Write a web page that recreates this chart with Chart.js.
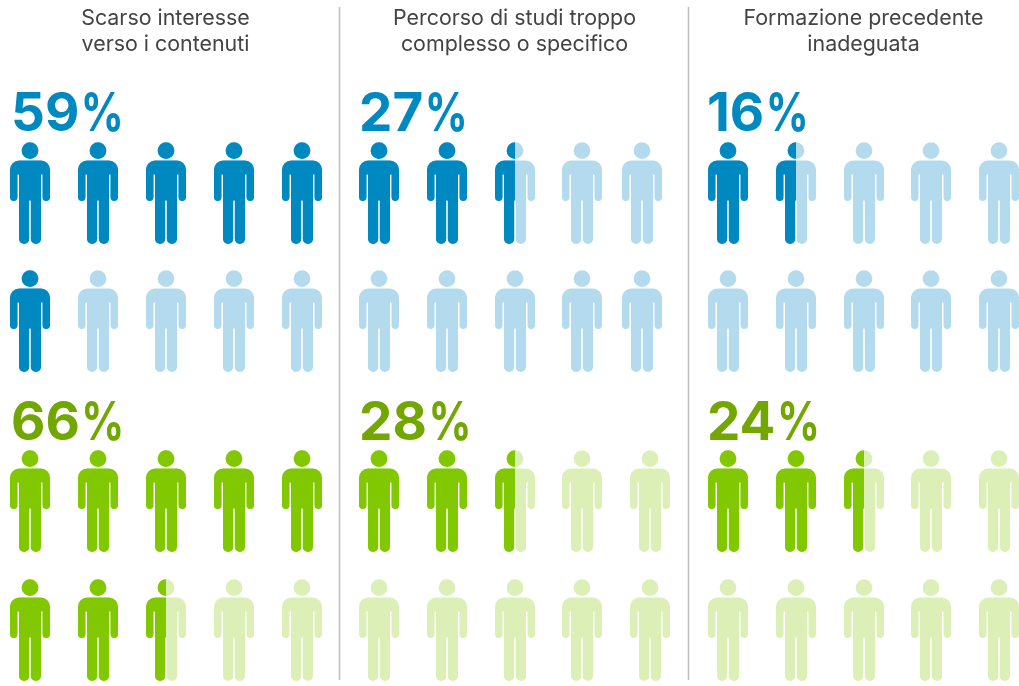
<!DOCTYPE html>
<html>
<head>
<meta charset="utf-8">
<style>
  html, body { margin: 0; padding: 0; background: #fff; }
  canvas { display: block; }
</style>
<script src="https://cdn.jsdelivr.net/npm/chart.js@4/dist/chart.umd.js"></script>
</head>
<body>
<canvas id="chart" width="1019" height="686"></canvas>
<script>
const panelTitles = [
    ["Scarso interesse", "verso i contenuti"],
    ["Percorso di studi troppo", "complesso o specifico"],
    ["Formazione precedente", "inadeguata"]
];
const bluePercent = [59, 27, 16];
const greenPercent = [66, 28, 24];
// people coloured in (.5 = half a person)
const blueFilled = [6, 2.5, 1.5];
const greenFilled = [7.5, 2.5, 2.5];

const blueDark = "#0089c0";
const blueLight = "#b3dbed";
const blueText = "#0089c0";
const greenDark = "#81c800";
const greenLight = "#dbefb7";
const greenText = "#72a600";

// layout, in canvas pixels (the x/y scales run 0-1019 and 0-686)
const columnX = [
    [30, 98, 166, 234, 302],
    [379, 447, 515, 582, 650],
    [728, 796, 864, 931, 999]
];
const blueRows = [193, 321];
const greenRows = [501, 630];
const labelX = [11, 359, 707];
const dividers = [339.5, 688.5];

function personPath(ctx) {
    ctx.beginPath();
    ctx.arc(20, 8.6, 8.4, 0, Math.PI * 2);
    ctx.closePath();
    ctx.roundRect(0, 18.5, 40, 14, [9, 9, 0, 0]);
    ctx.roundRect(0, 25, 7.5, 34, 3.7);
    ctx.roundRect(32.5, 25, 7.5, 34, 3.7);
    ctx.rect(9, 18.5, 22, 40);
    ctx.roundRect(9, 50, 10.2, 52, 5);
    ctx.roundRect(20.8, 50, 10.2, 52, 5);
    ctx.fill();
}

function personIcon(dark, light, share) {
    const c = document.createElement("canvas");
    c.width = 40;
    c.height = 102;
    const ctx = c.getContext("2d");
    ctx.fillStyle = light;
    personPath(ctx);
    if (share > 0) {
        ctx.save();
        ctx.beginPath();
        ctx.rect(0, 0, 40 * share, 102);
        ctx.clip();
        ctx.fillStyle = dark;
        personPath(ctx);
        ctx.restore();
    }
    return c;
}

function peopleDataset(panel, rows, filled, dark, light, narrowLast) {
    const full = personIcon(dark, light, 1);
    const half = personIcon(dark, light, 0.5);
    const empty = personIcon(dark, light, 0);
    const points = [];
    const styles = [];
    for (let i = 0; i < 10; i++) {
        const col = i % 5;
        let x = columnX[panel][col];
        if (narrowLast && col === 4) x -= 8;
        points.push({ x: x, y: rows[Math.floor(i / 5)] });
        const share = Math.max(0, Math.min(1, filled - i));
        styles.push(share === 1 ? full : share > 0 ? half : empty);
    }
    return { data: points, pointStyle: styles, pointRadius: 20, showLine: false };
}

const datasets = [];
panelTitles.forEach((t, p) => {
    // middle panel's blue block has its last column a bit closer in
    datasets.push(peopleDataset(p, blueRows, blueFilled[p], blueDark, blueLight, p === 1));
    datasets.push(peopleDataset(p, greenRows, greenFilled[p], greenDark, greenLight, false));
});
dividers.forEach(x => {
    datasets.push({
        data: [{ x: x, y: 7 }, { x: x, y: 680 }],
        showLine: true,
        borderColor: "#bdbdbd",
        borderWidth: 1.5,
        pointRadius: 0
    });
});

// the % sign in the reference is narrower than Inter's here, so squeeze it a bit
function drawPercent(ctx, value, px, py, color) {
    ctx.font = "730 53px Inter";
    ctx.textAlign = "left";
    ctx.fillStyle = color;
    const digits = String(value);
    ctx.fillText(digits, px, py);
    ctx.save();
    ctx.translate(px + ctx.measureText(digits).width + 1.5, py);
    ctx.scale(0.8, 1);
    ctx.fillText("%", 0, 0);
    ctx.restore();
}

const textPlugin = {
    id: "panelText",
    afterDatasetsDraw(chart) {
        const { ctx, scales: { x, y } } = chart;
        ctx.save();
        ctx.textBaseline = "alphabetic";
        panelTitles.forEach((lines, p) => {
            ctx.font = "400 21.4px Inter";
            ctx.fillStyle = "#444444";
            ctx.textAlign = "center";
            const cx = x.getPixelForValue(columnX[p][2] - 0.5);
            lines.forEach((line, i) => ctx.fillText(line, cx, y.getPixelForValue(25 + i * 26)));

            drawPercent(ctx, bluePercent[p], x.getPixelForValue(labelX[p]), y.getPixelForValue(131), blueText);
            drawPercent(ctx, greenPercent[p], x.getPixelForValue(labelX[p]), y.getPixelForValue(440), greenText);
        });
        ctx.restore();
    }
};

new Chart(document.getElementById("chart"), {
    type: "scatter",
    data: { datasets: datasets },
    plugins: [textPlugin],
    options: {
        responsive: false,
        animation: false,
        devicePixelRatio: 1,
        layout: { padding: 0, autoPadding: false },
        plugins: { legend: { display: false }, tooltip: { enabled: false } },
        scales: {
            x: { type: "linear", min: 0, max: 1019, display: false },
            y: { type: "linear", min: 0, max: 686, reverse: true, display: false }
        }
    }
});
</script>
</body>
</html>
